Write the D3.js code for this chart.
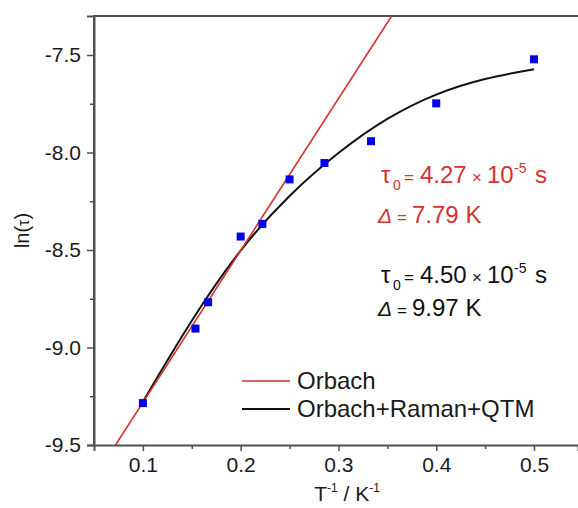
<!DOCTYPE html>
<html>
<head>
<meta charset="utf-8">
<script src="https://cdn.jsdelivr.net/npm/d3@7"></script>
<style>
  body { margin: 0; background: #fff; }
  svg { font-family: "Liberation Sans", Arial, sans-serif; }
</style>
</head>
<body>
<div id="chart"></div>
<script>
// measured points, x = 1/T
var invT = [0.1, 0.1538, 0.1667, 0.2, 0.2222, 0.25, 0.2857, 0.3333, 0.4, 0.5];
var lnTau = [-9.285, -8.903, -8.768, -8.431, -8.366, -8.138, -8.054, -7.942, -7.748, -7.522];

// Orbach fit (straight line)
var orbachX = [0.072, 0.3544];
var orbachY = [-9.5, -7.30];

// Orbach+Raman+QTM fit
var fitX = [0.1, 0.15, 0.2, 0.25, 0.3, 0.35, 0.4, 0.45, 0.5];
var fitY = [-9.278, -8.863, -8.503, -8.223, -8.003, -7.828, -7.703, -7.623, -7.573];

var xTicks = [0.1, 0.2, 0.3, 0.4, 0.5];
var yTicks = [-9.5, -9.0, -8.5, -8.0, -7.5];

var width = 578, height = 508;
var plotL = 94, plotT = 16, plotR = 578, plotB = 445;

var x = d3.scaleLinear().domain([0.05, 0.545]).range([plotL, plotR]);
var y = d3.scaleLinear().domain([-9.5, -7.3]).range([plotB, plotT]);

var svg = d3.select("#chart").append("svg")
  .attr("width", width)
  .attr("height", height);

svg.append("defs").append("clipPath").attr("id", "clip")
  .append("rect")
  .attr("x", plotL).attr("y", plotT)
  .attr("width", plotR - plotL).attr("height", plotB - plotT);

var axisColor = "#505050";
var fmt = function(d) { return d.toFixed(1); };  // plain hyphen, like the original

// x axis
svg.append("g")
  .attr("transform", "translate(0," + plotB + ")")
  .call(d3.axisBottom(x).tickValues(xTicks).tickFormat(fmt).tickSizeOuter(0).tickSize(6).tickPadding(6));
// minor ticks
svg.append("g")
  .attr("transform", "translate(0," + plotB + ")")
  .call(d3.axisBottom(x).tickValues([0.15, 0.25, 0.35, 0.45]).tickFormat("").tickSizeOuter(0).tickSize(4))
  .select(".domain").remove();

// y axis
svg.append("g")
  .attr("transform", "translate(" + plotL + ",0)")
  .call(d3.axisLeft(y).tickValues(yTicks).tickFormat(fmt).tickSizeOuter(0).tickSize(7).tickPadding(6));
svg.append("g")
  .attr("transform", "translate(" + plotL + ",0)")
  .call(d3.axisLeft(y).tickValues([-9.25, -8.75, -8.25, -7.75]).tickFormat("").tickSizeOuter(0).tickSize(4))
  .select(".domain").remove();

svg.selectAll(".domain").attr("stroke", axisColor).attr("stroke-width", 2);
svg.selectAll(".tick line").attr("stroke", axisColor).attr("stroke-width", 1.5);
svg.selectAll(".tick text").attr("font-size", 21).attr("fill", "#1a1a1a")
  .attr("font-family", "Liberation Sans, Arial, sans-serif");

// top frame + left edge up to it
svg.append("line")
  .attr("x1", plotL).attr("x2", plotR)
  .attr("y1", plotT).attr("y2", plotT)
  .attr("stroke", axisColor).attr("stroke-width", 2);
svg.append("line")
  .attr("x1", plotL).attr("x2", plotL)
  .attr("y1", plotT - 1).attr("y2", plotB)
  .attr("stroke", axisColor).attr("stroke-width", 2);

var plot = svg.append("g").attr("clip-path", "url(#clip)");

var line = d3.line()
  .x(function(d) { return x(d[0]); })
  .y(function(d) { return y(d[1]); });

plot.append("path")
  .datum(d3.zip(fitX, fitY))
  .attr("d", line.curve(d3.curveNatural))
  .attr("fill", "none")
  .attr("stroke", "#111")
  .attr("stroke-width", 2);

plot.append("path")
  .datum(d3.zip(orbachX, orbachY))
  .attr("d", line.curve(d3.curveLinear))
  .attr("fill", "none")
  .attr("stroke", "#d4332e")
  .attr("stroke-width", 1.6);

var sq = 8;
plot.selectAll(".dot")
  .data(d3.zip(invT, lnTau))
  .enter().append("rect")
  .attr("class", "dot")
  .attr("x", function(d) { return x(d[0]) - sq / 2; })
  .attr("y", function(d) { return y(d[1]) - sq / 2; })
  .attr("width", sq)
  .attr("height", sq)
  .attr("fill", "#0000e6");

// axis titles
var yl = svg.append("text")
  .attr("transform", "translate(29," + ((plotT + plotB) / 2) + ") rotate(-90)")
  .attr("text-anchor", "middle")
  .attr("font-size", 20)
  .attr("fill", "#1a1a1a");
yl.append("tspan").text("ln(");
yl.append("tspan").attr("font-size", 16).text("τ");
yl.append("tspan").text(")");

var xl = svg.append("text")
  .attr("x", 347).attr("y", 501)
  .attr("text-anchor", "middle")
  .attr("font-size", 21)
  .attr("fill", "#1a1a1a");
xl.append("tspan").text("T");
xl.append("tspan").attr("font-size", 12).attr("dy", -9).text("-1");
xl.append("tspan").attr("dy", 9).text(" / K");
xl.append("tspan").attr("font-size", 12).attr("dy", -9).text("-1");

// fit parameters
function paramBlock(y1, y2, color, tau, delta) {
  var t = svg.append("text")
    .attr("y", y1)
    .attr("font-size", 24)
    .attr("fill", color);
  t.append("tspan").attr("x", 381).attr("font-size", 24).text("τ");
  t.append("tspan").attr("x", 393).attr("font-size", 14).attr("dy", 7).text("0");
  t.append("tspan").attr("x", 404).attr("font-size", 17).attr("dy", -7).text("=");
  t.append("tspan").attr("x", 420).text(tau);
  t.append("tspan").attr("x", 472).attr("font-size", 17).text("×");
  t.append("tspan").attr("x", 487).text("10");
  t.append("tspan").attr("x", 514).attr("font-size", 14).attr("dy", -10).text("-5");
  t.append("tspan").attr("x", 535).attr("dy", 10).text("s");

  var d = svg.append("text")
    .attr("y", y2)
    .attr("font-size", 24)
    .attr("fill", color);
  d.append("tspan").attr("x", 378).attr("font-style", "italic").attr("font-size", 21).text("Δ");
  d.append("tspan").attr("x", 397).attr("font-size", 17).text("=");
  d.append("tspan").attr("x", 412).text(delta + " K");
}
paramBlock(183, 223, "#d4332e", "4.27", "7.79");
paramBlock(283, 316, "#111", "4.50", "9.97");

// legend
var legendNames = ["Orbach", "Orbach+Raman+QTM"];
var legendColors = ["#d4332e", "#111"];
var legend = svg.selectAll(".legend")
  .data(legendNames)
  .enter().append("g")
  .attr("class", "legend")
  .attr("transform", function(d, i) { return "translate(0," + (381 + i * 28) + ")"; });

legend.append("line")
  .attr("x1", 242).attr("x2", 290)
  .attr("stroke", function(d, i) { return legendColors[i]; })
  .attr("stroke-width", function(d, i) { return i === 0 ? 1.6 : 2; });

legend.append("text")
  .attr("x", 297)
  .attr("y", 8)
  .attr("font-size", 24)
  .attr("fill", "#1a1a1a")
  .text(function(d) { return d; });
</script>
</body>
</html>
